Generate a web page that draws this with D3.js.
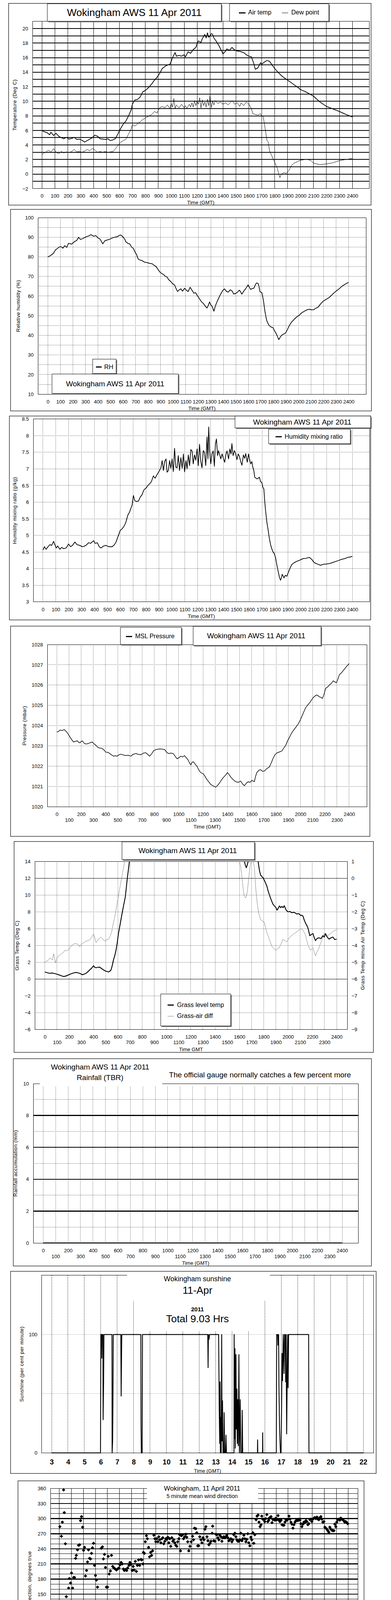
<!DOCTYPE html>
<html>
<head>
<meta charset="utf-8">
<title>Wokingham AWS 11 Apr 2011</title>
<style>
html, body{ margin:0; padding:0; background:#fff; width:1000px; height:5000px; overflow:hidden; }
svg{ display:block; }
.solid{ stroke:#000; stroke-width:1px; shape-rendering:crispEdges; }
.thick{ stroke:#000; stroke-width:2px; shape-rendering:crispEdges; }
.thick3{ stroke:#000; stroke-width:2.5px; shape-rendering:crispEdges; }
.dot{ stroke:#000; stroke-width:1px; stroke-dasharray:1,2; shape-rendering:crispEdges; }
.dash{ stroke:#000; stroke-width:1px; stroke-dasharray:2,2; shape-rendering:crispEdges; }
.lightdot{ stroke:#999; stroke-width:1px; stroke-dasharray:1,1; shape-rendering:crispEdges; }
</style>
</head>
<body>
<script src="https://cdn.jsdelivr.net/npm/d3@7/dist/d3.min.js"></script>
<script>

// ================= data (time as HHMM for the first six charts) =================

var airTemp = [[0,6.0],[20,5.8],[40,5.7],[60,5.4],[70,5.75],[90,5.3],[110,5.6],[130,5.2],[150,5.0],[170,4.85],[190,5.05],[210,4.8],[230,4.9],[250,5.05],[270,4.75],[290,4.8],[310,4.65],[330,4.4],[350,4.6],[370,4.8],[390,5.0],[410,5.35],[430,5.2],[450,4.85],[470,4.8],[490,4.75],[510,4.85],[530,4.6],[550,4.7],[570,4.9],[590,5.6],[610,6.3],[630,6.9],[650,7.3],[670,8.0],[690,8.8],[700,9.6],[720,10.2],[740,10.25],[760,10.6],[780,11.3],[800,11.5],[820,11.8],[850,12.4],[870,12.9],[890,13.3],[910,13.8],[930,14.5],[960,14.9],[990,15.1],[1000,15.5],[1010,16.0],[1030,16.7],[1040,16.2],[1060,16.3],[1080,16.2],[1100,16.4],[1110,16.1],[1130,16.8],[1150,16.6],[1170,17.1],[1190,17.4],[1200,17.9],[1210,18.3],[1230,18.1],[1240,18.6],[1260,19.2],[1270,18.7],[1280,19.4],[1290,18.8],[1300,19.0],[1310,19.3],[1320,19.2],[1330,18.7],[1350,18.2],[1370,17.6],[1390,16.9],[1400,16.5],[1420,16.9],[1430,17.2],[1450,17.0],[1470,17.4],[1480,17.2],[1500,16.95],[1530,16.85],[1560,16.7],[1580,16.4],[1600,16.2],[1620,16.1],[1640,15.1],[1650,14.4],[1670,14.6],[1690,15.3],[1700,15.1],[1720,15.4],[1740,15.6],[1760,15.5],[1780,15.0],[1800,14.5],[1830,13.9],[1860,13.4],[1900,12.9],[1940,12.4],[1980,11.9],[2000,11.6],[2040,11.3],[2080,10.9],[2100,10.7],[2150,9.9],[2200,9.3],[2250,8.95],[2300,8.6],[2350,8.2],[2400,7.85]];

var dewPoint = [[0,2.65],[15,2.9],[30,3.0],[50,3.3],[70,3.0],[90,3.5],[110,3.0],[130,2.8],[150,3.1],[170,2.9],[190,3.05],[210,2.95],[230,3.1],[250,3.4],[270,3.05],[290,3.1],[310,3.0],[330,3.15],[350,3.4],[370,3.2],[390,3.55],[410,3.3],[430,3.0],[450,3.1],[470,3.0],[490,3.1],[510,3.0],[530,3.05],[550,3.1],[570,3.5],[590,4.0],[610,4.4],[630,4.6],[650,4.8],[670,5.5],[690,6.2],[700,6.8],[720,6.6],[740,6.9],[760,7.2],[780,7.5],[800,7.7],[830,8.0],[850,8.2],[870,8.6],[890,8.4],[910,9.1],[930,9.3],[950,9.1],[970,9.5],[990,9.0],[1000,9.7],[1010,9.2],[1020,10.4],[1030,9.0],[1040,9.5],[1060,9.1],[1080,9.6],[1100,9.1],[1110,9.4],[1120,9.0],[1140,9.6],[1150,9.2],[1160,9.8],[1170,9.2],[1180,10.1],[1190,9.4],[1200,10.0],[1210,9.6],[1220,10.5],[1230,9.1],[1240,10.2],[1250,9.4],[1260,9.9],[1270,9.2],[1280,10.3],[1290,9.4],[1300,10.8],[1310,9.1],[1320,10.0],[1330,9.5],[1340,10.1],[1360,9.7],[1380,9.9],[1400,9.6],[1420,9.8],[1440,9.5],[1460,9.9],[1470,10.1],[1490,9.6],[1510,9.8],[1530,9.3],[1540,9.8],[1560,9.4],[1580,9.9],[1600,9.6],[1620,9.0],[1630,8.3],[1650,8.2],[1670,8.1],[1690,8.3],[1700,7.9],[1710,8.0],[1720,6.9],[1730,5.8],[1740,4.6],[1750,4.4],[1760,3.2],[1780,2.4],[1800,1.6],[1820,0.8],[1830,0.1],[1840,-0.5],[1850,-0.05],[1870,0.2],[1890,0.1],[1910,0.5],[1930,1.2],[1950,1.5],[1980,1.75],[2000,1.9],[2050,2.05],[2080,1.85],[2100,1.5],[2150,1.3],[2200,1.4],[2250,1.55],[2300,1.85],[2350,2.0],[2400,2.15]];

var relHum = [[0,79.9],[20,80.6],[45,81.8],[60,83.5],[75,84.2],[90,85.0],[105,85.2],[120,84.4],[135,85.7],[150,84.8],[165,86.9],[190,86.5],[215,87.9],[230,88.3],[245,89.9],[260,88.9],[275,89.2],[305,90.2],[325,90.6],[344,91.3],[365,90.5],[384,90.8],[400,89.6],[414,89.2],[428,87.8],[438,86.6],[455,88.2],[474,88.6],[495,89.0],[513,89.6],[535,90.0],[553,90.2],[570,90.9],[583,91.1],[603,89.9],[615,88.8],[623,87.6],[640,86.8],[653,86.6],[668,85.0],[683,84.2],[695,82.5],[708,81.2],[715,79.8],[722,78.8],[735,78.4],[752,78.1],[770,77.3],[792,77.1],[810,76.7],[832,76.5],[845,75.8],[862,75.1],[875,74.0],[892,72.4],[905,71.6],[921,71.1],[935,70.2],[951,69.7],[965,68.3],[981,67.4],[995,66.3],[1011,65.7],[1022,64.0],[1035,62.3],[1048,63.2],[1061,63.7],[1075,62.5],[1091,64.0],[1105,63.0],[1120,62.3],[1135,64.5],[1150,63.0],[1165,61.5],[1180,61.7],[1195,60.0],[1210,58.6],[1225,57.2],[1240,56.3],[1255,55.0],[1270,53.9],[1280,55.2],[1290,57.0],[1300,55.5],[1310,54.9],[1318,53.5],[1325,52.3],[1337,55.0],[1349,57.0],[1365,59.2],[1379,61.0],[1395,62.8],[1409,63.7],[1425,62.4],[1439,62.0],[1455,63.2],[1469,62.7],[1484,61.0],[1498,61.3],[1513,62.0],[1528,63.0],[1538,62.2],[1548,61.0],[1563,62.5],[1578,63.7],[1598,65.7],[1608,64.5],[1618,63.4],[1630,63.8],[1644,64.0],[1654,65.5],[1664,66.7],[1678,66.4],[1685,64.8],[1692,62.3],[1708,61.7],[1715,59.5],[1722,57.0],[1732,52.3],[1740,49.5],[1747,47.5],[1757,46.0],[1767,44.9],[1782,44.2],[1797,43.9],[1807,42.5],[1817,41.5],[1830,39.8],[1843,37.8],[1855,39.2],[1867,40.1],[1880,40.6],[1897,41.2],[1912,43.0],[1926,44.9],[1945,46.8],[1966,48.2],[1986,49.4],[2006,50.2],[2020,51.2],[2036,51.9],[2060,52.8],[2086,53.3],[2105,53.0],[2122,53.1],[2140,53.9],[2155,54.3],[2175,55.9],[2195,57.3],[2220,58.3],[2245,59.3],[2265,60.5],[2285,61.7],[2305,62.8],[2324,63.7],[2345,64.9],[2364,65.7],[2382,66.4],[2400,67.0]];

var mixRatio = [[0,4.56],[12,4.66],[25,4.58],[40,4.66],[54,4.72],[68,4.70],[83,4.82],[93,4.72],[103,4.62],[115,4.68],[132,4.58],[145,4.64],[161,4.60],[180,4.62],[199,4.74],[215,4.66],[230,4.70],[248,4.80],[265,4.72],[286,4.70],[305,4.66],[325,4.68],[340,4.72],[354,4.78],[370,4.76],[393,4.84],[405,4.76],[422,4.78],[437,4.66],[451,4.62],[470,4.68],[489,4.70],[510,4.66],[538,4.66],[555,4.72],[567,4.80],[586,5.0],[600,5.15],[615,5.2],[630,5.28],[644,5.4],[658,5.6],[673,5.71],[683,5.82],[692,5.91],[702,6.2],[712,6.05],[725,6.02],[741,6.03],[755,6.15],[770,6.23],[780,6.34],[789,6.39],[800,6.42],[814,6.5],[828,6.55],[842,6.62],[857,6.79],[870,6.72],[886,6.83],[900,6.92],[915,7.03],[925,7.25],[935,6.95],[944,7.22],[955,7.30],[963,6.90],[973,6.95],[983,7.25],[992,7.02],[1002,7.30],[1012,6.92],[1021,7.62],[1031,7.05],[1041,7.03],[1050,7.40],[1060,6.95],[1070,7.34],[1080,7.02],[1090,7.45],[1099,6.91],[1110,7.25],[1118,7.00],[1128,7.42],[1138,7.10],[1147,7.58],[1157,7.54],[1166,7.15],[1176,7.42],[1186,7.26],[1196,7.60],[1205,7.10],[1215,7.74],[1224,7.25],[1234,7.03],[1244,7.55],[1253,7.50],[1263,7.10],[1273,7.96],[1280,7.30],[1286,8.26],[1293,7.55],[1302,7.15],[1311,7.45],[1321,7.54],[1330,7.08],[1338,7.75],[1346,7.90],[1355,7.40],[1362,7.55],[1369,7.46],[1380,7.30],[1390,7.45],[1398,7.34],[1410,7.20],[1420,7.45],[1428,7.54],[1440,7.30],[1450,7.60],[1459,7.45],[1466,7.76],[1475,7.40],[1486,7.55],[1495,7.46],[1505,7.28],[1515,7.45],[1524,7.38],[1534,7.22],[1544,7.11],[1555,7.42],[1565,7.32],[1573,7.46],[1585,7.20],[1595,7.45],[1602,7.30],[1612,7.15],[1621,7.22],[1628,7.05],[1636,6.95],[1643,6.75],[1650,6.73],[1660,6.70],[1670,6.72],[1679,6.75],[1688,6.62],[1698,6.59],[1706,6.45],[1714,6.39],[1720,6.05],[1727,5.75],[1737,5.40],[1747,5.16],[1756,4.92],[1766,4.72],[1775,4.60],[1785,4.50],[1795,4.45],[1805,4.32],[1815,4.10],[1824,3.93],[1834,3.75],[1843,3.65],[1850,3.72],[1856,3.83],[1863,3.78],[1870,3.72],[1880,3.80],[1892,3.77],[1910,3.95],[1930,4.12],[1950,4.18],[1969,4.22],[1990,4.25],[2017,4.30],[2040,4.31],[2066,4.34],[2085,4.28],[2104,4.18],[2128,4.14],[2153,4.10],[2175,4.13],[2201,4.14],[2230,4.16],[2259,4.20],[2290,4.24],[2317,4.28],[2340,4.30],[2366,4.34],[2385,4.35],[2400,4.37]];

var mslPressure = [[0,1023.68],[12,1023.70],[25,1023.78],[43,1023.76],[61,1023.8],[75,1023.72],[86,1023.65],[106,1023.45],[120,1023.32],[137,1023.19],[150,1023.22],[168,1023.25],[178,1023.18],[188,1023.15],[209,1023.25],[225,1023.12],[240,1023.09],[260,1023.12],[280,1023.17],[291,1023.19],[305,1023.10],[322,1023.02],[337,1022.92],[352,1022.89],[368,1022.88],[383,1022.82],[403,1022.69],[420,1022.68],[434,1022.62],[450,1022.55],[465,1022.49],[480,1022.51],[496,1022.49],[510,1022.56],[526,1022.59],[545,1022.55],[567,1022.52],[585,1022.54],[608,1022.49],[625,1022.58],[649,1022.62],[670,1022.58],[690,1022.56],[710,1022.64],[731,1022.66],[745,1022.58],[762,1022.49],[778,1022.60],[793,1022.75],[815,1022.82],[844,1022.85],[865,1022.84],[885,1022.82],[900,1022.70],[915,1022.62],[935,1022.64],[956,1022.62],[970,1022.50],[987,1022.36],[1000,1022.40],[1018,1022.49],[1033,1022.45],[1048,1022.52],[1065,1022.40],[1079,1022.29],[1090,1022.15],[1100,1022.06],[1110,1022.18],[1120,1022.22],[1135,1022.10],[1151,1021.99],[1160,1021.88],[1171,1021.76],[1185,1021.66],[1202,1021.63],[1218,1021.48],[1233,1021.33],[1248,1021.22],[1264,1021.09],[1285,1021.02],[1305,1020.96],[1320,1021.05],[1335,1021.16],[1350,1021.30],[1366,1021.43],[1385,1021.55],[1401,1021.69],[1415,1021.58],[1428,1021.46],[1448,1021.33],[1469,1021.23],[1490,1021.20],[1510,1021.26],[1525,1021.12],[1540,1021.03],[1555,1021.15],[1571,1021.23],[1587,1021.20],[1602,1021.30],[1612,1021.26],[1622,1021.23],[1632,1021.50],[1643,1021.69],[1660,1021.80],[1674,1021.82],[1690,1021.74],[1704,1021.76],[1725,1021.88],[1745,1021.96],[1760,1022.15],[1776,1022.39],[1790,1022.55],[1807,1022.65],[1828,1022.70],[1848,1022.75],[1862,1022.88],[1879,1023.02],[1895,1023.25],[1910,1023.42],[1925,1023.60],[1941,1023.75],[1960,1023.90],[1982,1024.08],[1997,1024.25],[2012,1024.45],[2028,1024.68],[2043,1024.88],[2060,1025.02],[2074,1025.11],[2090,1025.25],[2105,1025.38],[2118,1025.45],[2131,1025.51],[2145,1025.48],[2156,1025.41],[2168,1025.40],[2180,1025.34],[2192,1025.50],[2207,1025.84],[2222,1025.90],[2238,1026.0],[2253,1026.08],[2269,1026.21],[2282,1026.16],[2295,1026.11],[2308,1026.30],[2320,1026.51],[2336,1026.60],[2351,1026.71],[2366,1026.82],[2381,1026.94],[2390,1026.98],[2400,1027.07]];

var grassTemp = [[0,0.84],[20,0.75],[41,0.68],[60,0.72],[72,0.68],[90,0.62],[113,0.51],[130,0.42],[154,0.30],[170,0.35],[185,0.43],[205,0.56],[226,0.68],[240,0.74],[256,0.79],[272,0.74],[287,0.68],[298,0.60],[308,0.51],[322,0.58],[338,0.68],[352,0.85],[369,1.09],[385,1.30],[400,1.59],[410,1.40],[421,1.34],[436,1.40],[451,1.42],[466,1.25],[482,1.09],[500,0.95],[523,0.84],[534,0.92],[544,1.09],[554,1.60],[564,2.26],[575,2.80],[585,3.42],[595,4.30],[605,5.41],[620,6.60],[636,7.90],[648,8.80],[661,9.73],[670,10.9],[677,11.89],[686,12.9],[694,13.88],[705,14.6],[760,17],[900,21],[1100,24],[1300,25],[1500,20],[1620,15],[1641,14.0],[1650,13.5],[1657,13.25],[1665,13.6],[1672,14.0],[1700,14.6],[1754,14.0],[1764,13.0],[1774,12.39],[1785,12.2],[1795,12.06],[1810,11.6],[1826,11.06],[1836,10.5],[1846,10.06],[1857,9.6],[1867,9.23],[1877,8.9],[1887,8.73],[1900,8.5],[1910,8.2],[1918,8.40],[1930,8.7],[1940,8.5],[1949,8.65],[1960,8.5],[1969,8.73],[1985,8.2],[2000,7.99],[2015,8.05],[2031,7.90],[2050,7.95],[2072,7.74],[2088,7.8],[2103,7.57],[2113,7.6],[2123,7.49],[2134,7.0],[2144,6.66],[2154,6.4],[2164,6.08],[2172,5.6],[2179,5.16],[2192,5.3],[2205,5.41],[2215,4.95],[2226,4.58],[2240,4.85],[2256,4.91],[2270,4.8],[2287,5.16],[2298,5.0],[2308,5.41],[2322,5.0],[2338,4.75],[2352,4.9],[2369,5.0],[2385,4.7],[2400,4.75]];

var grassAirDiff = [[0,-5.04],[10,-4.95],[21,-4.91],[31,-4.85],[41,-4.75],[52,-4.80],[62,-4.87],[72,-4.50],[80,-4.75],[86,-5.04],[95,-4.85],[103,-4.71],[113,-4.62],[123,-4.58],[134,-4.50],[144,-4.46],[154,-4.40],[164,-4.29],[180,-4.32],[195,-4.25],[205,-4.15],[215,-4.04],[226,-3.98],[236,-3.92],[250,-3.88],[267,-3.92],[277,-3.98],[287,-4.08],[298,-3.95],[308,-3.88],[322,-3.82],[338,-3.75],[352,-3.72],[369,-3.67],[385,-3.50],[400,-3.34],[410,-3.55],[421,-3.83],[431,-3.72],[441,-3.63],[452,-3.56],[462,-3.50],[477,-3.62],[492,-3.75],[508,-3.66],[523,-3.63],[536,-3.45],[549,-3.21],[557,-2.90],[564,-2.63],[572,-2.40],[579,-2.13],[587,-1.80],[595,-1.47],[603,-1.15],[611,-0.80],[621,-0.40],[632,0.03],[640,0.35],[646,0.61],[656,1.0],[670,1.3],[800,2.5],[1200,3],[1580,1.5],[1600,1.0],[1610,0.73],[1618,0.25],[1625,-0.22],[1631,-0.6],[1637,-0.97],[1644,-1.10],[1651,-1.18],[1658,-1.05],[1665,-0.80],[1674,-0.2],[1682,0.36],[1690,0.8],[1698,1.0],[1710,1.2],[1716,0.9],[1723,0.69],[1729,0.0],[1735,-0.64],[1742,-1.15],[1749,-1.63],[1760,-2.1],[1774,-2.46],[1790,-2.55],[1805,-2.63],[1813,-2.85],[1821,-3.13],[1834,-3.40],[1846,-3.63],[1857,-3.85],[1867,-4.04],[1882,-4.18],[1897,-4.29],[1912,-4.20],[1928,-4.13],[1944,-3.88],[1959,-3.63],[1975,-3.72],[1990,-3.79],[2005,-3.60],[2021,-3.46],[2036,-3.38],[2051,-3.29],[2067,-3.22],[2082,-3.13],[2098,-3.05],[2113,-3.00],[2128,-3.15],[2144,-3.38],[2154,-3.70],[2164,-3.96],[2175,-4.15],[2185,-4.29],[2195,-4.20],[2205,-4.13],[2215,-4.40],[2226,-4.62],[2238,-4.40],[2251,-4.21],[2264,-3.95],[2277,-3.71],[2287,-3.50],[2297,-3.29],[2308,-3.38],[2318,-3.46],[2333,-3.38],[2349,-3.29],[2364,-3.20],[2379,-3.13],[2390,-3.10],[2400,-3.09]];

var rainfall = [[0,0],[2400,0]];

// sunshine: [hour, per cent]
var sunshine = [[3,0],[5.98,0],[6.0,100],[6.05,100],[6.06,80],[6.08,100],[6.13,100],[6.14,28],[6.17,60],[6.19,100],[6.68,100],[6.69,0],[6.72,10],[6.74,45],[6.76,100],[7.22,100],[7.24,48],[7.27,90],[7.28,100],[8.44,100],[8.45,27],[8.47,0],[8.52,0],[8.54,100],[12.52,100],[12.54,72],[12.56,100],[12.6,96],[12.63,100],[13.18,100],[13.2,72],[13.22,36],[13.25,8],[13.27,60],[13.29,0],[13.31,30],[13.34,0],[13.37,100],[13.39,10],[13.42,44],[13.45,0],[13.5,0],[13.52,34],[13.55,0],[13.6,0],[13.63,15],[13.66,0],[14.12,0],[14.13,100],[14.16,12],[14.18,88],[14.2,4],[14.24,83],[14.26,20],[14.3,54],[14.32,8],[14.35,45],[14.38,6],[14.42,83],[14.45,0],[14.5,45],[14.53,0],[14.6,0],[14.62,36],[14.65,0],[15.55,0],[15.56,11],[15.57,0],[15.86,0],[15.87,17],[15.88,0],[16.70,0],[16.72,100],[16.78,100],[16.80,91],[16.84,100],[16.86,56],[16.9,20],[16.95,0],[16.99,0],[17.02,36],[17.05,84],[17.08,61],[17.12,100],[17.17,67],[17.2,100],[17.24,100],[17.27,60],[17.3,100],[17.33,16],[17.36,58],[17.39,100],[17.42,55],[17.45,100],[18.67,100],[18.69,0],[22,0]];

// 5 minute mean wind direction: [hour, degrees]
var windDir = [[0.0,109],[0.04,284],[0.17,265],[0.25,293],[0.35,357],[0.41,312],[0.5,250],[0.58,145],[0.66,123],[0.77,162],[0.83,181],[0.93,172],[1.01,192],[1.10,162],[1.18,183],[1.26,183],[1.35,221],[1.41,227],[1.51,238],[1.59,247],[1.68,248],[1.76,296],[1.84,304],[1.93,283],[2.01,237],[2.09,243],[2.17,186],[2.26,197],[2.34,214],[2.42,238],[2.51,221],[2.59,220],[2.67,231],[2.75,242],[2.84,251],[2.92,207],[3.0,187],[3.08,178],[3.17,164],[3.25,131],[3.33,116],[3.42,124],[3.48,241],[3.58,244],[3.66,220],[3.75,229],[3.83,203],[3.91,164],[4.0,164],[4.06,225],[4.14,190],[4.24,196],[4.33,227],[4.43,205],[4.53,202],[4.64,200],[4.74,198],[4.84,200],[4.95,202],[5.03,208],[5.13,213],[5.22,210],[5.32,200],[5.40,197],[5.49,199],[5.59,197],[5.67,202],[5.78,207],[5.86,213],[5.94,209],[6.05,197],[6.13,205],[6.21,198],[6.31,215],[6.40,195],[6.48,207],[6.58,218],[6.67,207],[6.77,219],[6.85,218],[6.94,210],[6.98,233],[7.06,231],[7.14,254],[7.23,266],[7.31,260],[7.41,243],[7.49,224],[7.58,233],[7.66,227],[7.74,236],[7.85,267],[7.93,260],[8.01,254],[8.10,260],[8.18,254],[8.26,264],[8.34,258],[8.43,252],[8.51,260],[8.59,262],[8.67,250],[8.76,255],[8.84,260],[8.92,259],[9.01,263],[9.09,252],[9.17,260],[9.25,245],[9.34,262],[9.42,255],[9.50,258],[9.59,252],[9.67,247],[9.75,245],[9.83,254],[9.92,260],[10.0,268],[10.06,236],[10.14,266],[10.23,268],[10.31,260],[10.41,264],[10.50,269],[10.58,263],[10.66,254],[10.75,236],[10.85,245],[10.95,254],[11.06,265],[11.14,258],[11.22,281],[11.33,280],[11.41,272],[11.49,246],[11.57,246],[11.66,264],[11.76,258],[11.84,252],[11.93,262],[12.01,258],[12.09,279],[12.17,284],[12.26,264],[12.34,256],[12.42,248],[12.51,251],[12.59,255],[12.69,271],[12.73,285],[12.82,256],[12.92,255],[13.0,269],[13.08,268],[13.17,262],[13.25,258],[13.33,267],[13.42,264],[13.50,255],[13.58,262],[13.66,264],[13.75,262],[13.83,264],[13.91,267],[14.0,262],[14.08,256],[14.16,258],[14.24,260],[14.33,254],[14.41,258],[14.49,268],[14.58,271],[14.66,264],[14.74,258],[14.82,255],[14.91,255],[14.99,258],[15.07,271],[15.16,256],[15.24,260],[15.32,267],[15.40,260],[15.49,254],[15.57,259],[15.65,270],[15.73,252],[15.82,246],[15.90,263],[15.98,258],[16.07,272],[16.15,251],[16.23,268],[16.34,298],[16.42,305],[16.50,307],[16.58,293],[16.67,284],[16.75,288],[16.81,305],[16.89,299],[16.98,298],[17.06,294],[17.14,300],[17.23,308],[17.31,294],[17.39,297],[17.47,302],[17.58,304],[17.66,292],[17.74,298],[17.83,299],[17.91,297],[17.99,301],[18.07,298],[18.16,306],[18.24,297],[18.32,294],[18.41,297],[18.49,288],[18.57,287],[18.65,287],[18.74,293],[18.82,298],[18.90,297],[18.99,299],[19.07,305],[19.15,299],[19.23,293],[19.32,289],[19.40,281],[19.48,288],[19.57,293],[19.65,296],[19.73,297],[19.81,296],[19.90,299],[19.98,297],[20.06,290],[20.14,284],[20.23,289],[20.31,293],[20.39,292],[20.48,296],[20.56,294],[20.64,288],[20.72,290],[20.81,298],[20.89,299],[20.97,294],[21.06,299],[21.14,301],[21.22,302],[21.30,300],[21.39,303],[21.47,299],[21.55,298],[21.64,302],[21.72,304],[21.80,299],[21.88,293],[21.97,294],[22.05,283],[22.13,281],[22.22,279],[22.30,276],[22.38,273],[22.46,283],[22.55,279],[22.63,277],[22.71,276],[22.80,276],[22.88,289],[22.96,284],[23.04,293],[23.13,298],[23.21,299],[23.29,297],[23.37,301],[23.46,299],[23.54,298],[23.62,296],[23.70,293],[23.79,294],[23.87,292],[23.95,290]];

// 10 minute mean speed (knots): [hour, kt]
var windMean = [[0,0.8],[0.12,0.4],[0.24,0.3],[0.4,0.9],[0.54,0.7],[0.75,0.4],[0.95,0.6],[1.1,0.9],[1.25,1.0],[1.4,1.3],[1.55,1.7],[1.7,1.0],[1.86,1.2],[2.0,1.5],[2.16,1.6],[2.3,1.1],[2.46,1.4],[2.65,1.3],[2.86,1.7],[3.05,1.4],[3.27,1.5],[3.5,1.9],[3.6,1.2],[3.77,1.7],[4.0,1.4],[4.18,0.8],[4.3,1.0],[4.48,1.7],[4.65,2.2],[4.88,2.5],[5.05,2.9],[5.29,2.8],[5.45,2.5],[5.69,2.2],[5.85,2.9],[5.99,3.1],[6.2,2.6],[6.39,2.8],[6.6,3.3],[6.80,3.1],[6.95,2.6],[7.10,2.2],[7.25,2.9],[7.40,3.6],[7.6,3.3],[7.81,4.2],[7.95,4.6],[8.11,5.3],[8.25,4.7],[8.41,4.5],[8.55,4.0],[8.71,5.3],[8.9,4.9],[9.12,5.6],[9.3,5.2],[9.52,6.1],[9.7,5.9],[9.93,5.3],[10.08,6.4],[10.23,7.8],[10.38,6.9],[10.53,8.6],[10.7,7.4],[10.83,6.4],[11.0,7.2],[11.14,7.8],[11.3,8.8],[11.44,9.5],[11.6,8.0],[11.74,7.2],[11.9,8.6],[12.04,10.0],[12.25,9.2],[12.45,9.5],[12.6,8.8],[12.75,10.3],[12.9,9.0],[13.05,8.1],[13.2,9.0],[13.35,10.0],[13.5,11.5],[13.66,13.1],[13.76,11.5],[13.86,10.6],[13.96,12.0],[14.06,11.7],[14.2,11.0],[14.36,10.6],[14.5,9.6],[14.67,10.0],[14.85,9.2],[15.07,8.1],[15.2,8.6],[15.37,8.9],[15.5,8.3],[15.67,8.1],[15.8,9.2],[15.98,10.6],[16.12,9.6],[16.28,8.9],[16.45,9.9],[16.58,10.6],[16.75,9.5],[16.89,8.9],[17.05,10.2],[17.19,11.7],[17.35,10.5],[17.49,10.0],[17.65,12.0],[17.79,13.4],[17.9,11.8],[17.99,12.5],[18.1,11.5],[18.20,10.6],[18.35,11.5],[18.50,12.2],[18.65,9.6],[18.80,7.8],[18.95,8.8],[19.10,10.0],[19.25,8.5],[19.41,7.2],[19.55,8.4],[19.71,10.0],[19.85,9.0],[20.01,8.1],[20.2,8.3],[20.42,8.6],[20.55,9.0],[20.72,9.7],[20.87,9.2],[21.02,9.5],[21.17,10.5],[21.32,11.4],[21.48,10.4],[21.63,9.5],[21.72,8.2],[21.83,6.7],[21.98,6.9],[22.13,6.4],[22.28,6.7],[22.43,6.4],[22.58,6.8],[22.73,7.0],[22.88,6.5],[23.04,5.8],[23.2,6.8],[23.34,7.5],[23.5,7.6],[23.64,8.1],[23.76,8.6],[23.88,9.2],[23.96,7.8],[24.04,6.7]];

// max gust (knots), one value every 0.1 hour from 00:00
var gustStart = 0, gustStep = 0.1;
var windGust = [
  1.4,1.0,1.8,1.2,1.1,0.8,1.5,1.3,1.0,1.4,
  1.6,1.2,1.9,2.0,1.5,1.8,2.2,1.7,1.4,2.4,
  1.5,2.0,1.6,1.4,1.8,1.3,2.1,1.6,1.9,2.3,
  1.8,2.2,1.6,2.0,2.5,1.7,2.4,1.9,2.0,2.2,
  1.6,1.2,0.7,1.8,2.6,3.0,3.8,3.2,4.0,3.5,
  3.9,3.4,4.2,3.6,4.4,3.8,3.5,4.2,4.8,3.9,
  4.7,4.2,5.0,3.8,4.5,3.6,4.3,4.9,3.8,4.7,
  4.2,5.5,7.0,4.8,5.3,6.2,4.5,7.5,5.5,8.6,
  6.0,8.8,6.7,7.5,9.5,6.2,8.0,6.7,9.0,7.2,
  8.9,6.5,9.5,7.8,6.6,10.0,7.5,9.0,3.3,8.9,
  9.5,13.4,8.5,12.0,10.6,14.0,9.0,12.2,10.0,13.5,
  13.9,10.0,14.5,11.1,15.5,10.5,15.0,12.0,17.8,13.0,
  17.8,11.0,15.5,12.8,16.5,15.3,11.5,16.0,13.4,15.0,
  12.5,17.0,14.0,18.0,15.0,23.9,13.5,20.0,17.3,15.0,
  21.2,14.0,19.0,15.6,20.5,13.0,19.5,16.0,14.5,18.0,
  13.9,17.8,12.5,16.0,14.5,19.0,13.0,16.7,12.0,15.5,
  12.8,18.0,20.6,14.0,17.5,15.0,12.5,19.0,16.7,14.0,
  16.7,13.5,18.0,14.5,20.0,17.0,20.6,24.0,26.2,16.5,
  19.5,24.2,16.0,21.0,18.4,14.5,20.0,15.6,12.5,17.0,
  13.4,19.5,14.0,16.5,11.5,13.9,17.0,15.6,12.0,14.5,
  13.9,18.0,12.5,16.7,14.0,19.5,15.0,13.0,18.5,15.0,
  15.0,18.5,13.0,18.1,14.5,13.4,12.0,10.0,11.5,9.0,
  8.9,11.0,8.0,10.5,9.5,11.5,8.5,11.1,9.0,10.5,
  9.5,11.5,12.2,10.0,14.0,16.7,12.0,15.0,12.8,11.0,
  10.3];

// speeds below 4 kt shown x10: [hour, kt x10]
var speedTimes10 = [[0,8.1],[0.04,5.8],[0.1,3.6],[0.14,2.2],[0.2,6.7],[0.28,7.5],[0.36,5.8],[0.44,10.6],[0.5,9.2],[0.56,6.4],[0.65,5.8],[0.71,2.2],[0.77,5.6],[0.85,6.1],[0.95,5.8],[1.05,5.6],[1.15,4.2],[1.25,7.8],[1.35,8.9],[1.45,11.1],[1.55,13.6],[1.61,14.2],[1.71,11.4],[1.82,5.6],[1.90,8.9],[2.0,13.4],[2.06,12.2],[2.16,10.0],[2.26,7.2],[2.32,9.5],[2.42,12.5],[2.50,11.7],[2.60,10.9],[2.70,10.6],[2.80,12.2],[2.90,14.2],[3.0,15.0],[3.11,16.1],[3.21,15.3],[3.31,16.4],[3.41,14.5],[3.49,17.0],[3.59,8.6],[3.69,14.5],[3.79,15.6],[3.87,14.5],[3.97,11.7],[4.07,11.1],[4.18,8.9],[4.28,8.1],[4.34,11.1],[4.42,13.4],[4.52,15.0],[4.60,16.7],[4.68,18.4],[4.76,20.0],[4.82,22.3],[4.88,25.1],[4.98,25.6],[5.08,25.9],[5.18,28.7],[5.29,26.2],[5.39,24.5],[5.49,23.7],[5.59,24.5],[5.69,21.2],[5.79,25.6],[5.85,28.1],[5.91,31.7],[5.97,33.4],[6.05,31.2],[6.13,29.5],[6.23,31.5],[6.33,30.1],[6.44,27.6],[6.52,29.0],[6.60,32.9],[6.68,31.7],[6.76,30.3],[6.84,27.6],[6.92,26.7],[7.0,28.7],[7.06,23.9],[7.12,21.2],[7.18,19.8],[7.24,26.4],[7.30,29.8],[7.38,33.7],[7.46,32.6],[7.55,31.7],[7.63,30.3],[7.69,33.7],[7.73,35.9],[7.77,38.4],[7.91,39.6],[8.78,39.6]];

var hhmmTicks = d3.range(0, 2401, 100);
var evenTicks = d3.range(0, 2401, 200);
var oddTicks = d3.range(100, 2400, 200);

// ================= drawing helpers =================

var FONT = '"Liberation Sans", Arial, Helvetica, sans-serif';

var svg = d3.select("body").append("svg")
  .attr("width", 1000).attr("height", 5000)
  .attr("font-family", FONT);

svg.append("rect").attr("width", 1000).attr("height", 5000).attr("fill", "#fff");

function frame(x0, y0, x1, y1){
  svg.append("rect").attr("x", x0).attr("y", y0)
    .attr("width", x1 - x0).attr("height", y1 - y0)
    .attr("fill", "none").attr("stroke", "#000").attr("stroke-width", 1.2);
}

function box(x0, y0, x1, y1, shadow){
  if(shadow !== false){
    svg.append("rect").attr("x", x0 + 2.5).attr("y", y0 + 2.5)
      .attr("width", x1 - x0).attr("height", y1 - y0).attr("fill", "#707070");
  }
  svg.append("rect").attr("x", x0).attr("y", y0)
    .attr("width", x1 - x0).attr("height", y1 - y0)
    .attr("fill", "#fff").attr("stroke", "#000").attr("stroke-width", 1);
}

function whiteout(x0, y0, x1, y1){
  svg.append("rect").attr("x", x0).attr("y", y0)
    .attr("width", x1 - x0).attr("height", y1 - y0).attr("fill", "#fff");
}

function text(x, y, s, size, anchor, weight){
  return svg.append("text").attr("x", x).attr("y", y).attr("dy", "0.35em")
    .attr("font-size", size).attr("text-anchor", anchor || "middle")
    .attr("font-weight", weight || "normal").text(s);
}

function yTitle(cx, cy, s){
  svg.append("text")
    .attr("transform", "translate(" + cx + "," + cy + ") rotate(-90)")
    .attr("dy", "0.35em").attr("text-anchor", "middle")
    .attr("font-size", 13).attr("letter-spacing", "0.5px").text(s);
}

function hGrid(sc, vals, x0, x1, cls){
  svg.append("g").selectAll("line").data(vals).enter().append("line")
    .attr("class", cls).attr("x1", x0).attr("x2", x1)
    .attr("y1", function(d){ return sc(d); })
    .attr("y2", function(d){ return sc(d); });
}

function vGrid(sc, vals, y0, y1, cls){
  svg.append("g").selectAll("line").data(vals).enter().append("line")
    .attr("class", cls).attr("y1", y0).attr("y2", y1)
    .attr("x1", function(d){ return sc(d); })
    .attr("x2", function(d){ return sc(d); });
}

function plotBorder(L, T, R, B){
  svg.append("rect").attr("x", L).attr("y", T).attr("width", R - L).attr("height", B - T)
    .attr("fill", "none").attr("stroke", "#000").attr("stroke-width", 1)
    .attr("shape-rendering", "crispEdges");
}

function xAxis(sc, vals, yc, fmt, size, weight){
  var g = svg.append("g").attr("transform", "translate(0," + yc + ")")
    .call(d3.axisBottom(sc).tickValues(vals).tickSize(0).tickPadding(0)
      .tickFormat(fmt || d3.format("d")));
  g.select(".domain").remove();
  g.attr("font-family", FONT).attr("font-size", size || 13);
  g.selectAll("text").attr("y", 0).attr("dy", "0.35em").attr("font-weight", weight || "normal");
}

function yAxis(sc, vals, x, fmt, right){
  var ax = (right ? d3.axisRight(sc) : d3.axisLeft(sc))
    .tickValues(vals).tickSize(0).tickPadding(11).tickFormat(fmt || d3.format("d"));
  var g = svg.append("g").attr("transform", "translate(" + x + ",0)").call(ax);
  g.select(".domain").remove();
  g.attr("font-family", FONT).attr("font-size", 13);
}

function drawLine(xs, ys, data, color, width, clip){
  var line = d3.line()
    .x(function(d){ return xs(d[0]); })
    .y(function(d){ return ys(d[1]); });
  var p = svg.append("path").datum(data)
    .attr("d", line).attr("fill", "none")
    .attr("stroke", color).attr("stroke-width", width)
    .attr("stroke-linejoin", "round");
  if(clip) p.attr("clip-path", "url(#" + clip + ")");
  return p;
}

function clipRect(id, L, T, R, B){
  svg.append("clipPath").attr("id", id).append("rect")
    .attr("x", L).attr("y", T).attr("width", R - L).attr("height", B - T);
}

function legendDash(x0, x1, y, color, width){
  svg.append("line").attr("x1", x0).attr("x2", x1).attr("y1", y).attr("y2", y)
    .attr("stroke", color).attr("stroke-width", width);
}

// ================= 1. temperature =================
function temperatureChart(){
  var L = 83, R = 944, T = 54.4, B = 482.9;
  var x = d3.scaleLinear().domain([0, 2400]).range([107.1, 901.1]);
  var y = d3.scaleLinear().domain([-2, 21]).range([B, T]);
  frame(22, 8.6, 949, 525);
  vGrid(x, hhmmTicks, T, B, "solid");
  hGrid(y, d3.range(-1, 21), L, R, "thick");
  plotBorder(L, T, R, B);
  drawLine(x, y, dewPoint, "#000", 1);
  drawLine(x, y, airTemp, "#000", 1.8);
  yAxis(y, d3.range(-2, 21, 2), L);
  xAxis(x, hhmmTicks, 501);
  yTitle(37, (T + B) / 2, "Temperature (Deg C)");
  text((L + R) / 2, 518, "Time (GMT)", 13);
  box(121, 9.6, 566, 54.4);
  text(343.5, 32, "Wokingham AWS 11 Apr 2011", 26);
  box(587, 9.6, 841, 54.4);
  legendDash(611, 628, 33, "#000", 3);
  text(634.5, 31.7, "Air temp", 16, "start");
  legendDash(721, 737, 33, "#000", 1);
  text(745, 31.7, "Dew point", 16, "start");
}

// ================= 2. relative humidity =================
function humidityChart(){
  var L = 97, R = 936, T = 557, B = 1009.2;
  var x = d3.scaleLinear().domain([0, 2400]).range([122.4, 891.6]);
  var y = d3.scaleLinear().domain([10, 100]).range([B, T]);
  frame(27, 536, 950, 1052);
  vGrid(x, hhmmTicks, T, B, "dot");
  hGrid(y, d3.range(15, 100, 5), L, R, "dot");
  plotBorder(L, T, R, B);
  drawLine(x, y, relHum, "#000", 1.8);
  yAxis(y, d3.range(10, 101, 10), L);
  xAxis(x, hhmmTicks, 1028.8);
  yTitle(46.5, (T + B) / 2, "Relative humidity (%)");
  text((L + R) / 2, 1045.3, "Time (GMT)", 13);
  box(237, 919.4, 297, 956.5);
  legendDash(245.5, 260, 939.5, "#000", 3);
  text(266.6, 938.9, "RH", 16, "start");
  box(133, 957.5, 456, 1007.5);
  text(294.5, 982.8, "Wokingham AWS 11 Apr 2011", 19);
}

// ================= 3. humidity mixing ratio =================
function mixingChart(){
  var L = 85, R = 945, T = 1072.7, B = 1540.8;
  var x = d3.scaleLinear().domain([0, 2400]).range([109.7, 901.1]);
  var y = d3.scaleLinear().domain([3, 8.5]).range([B, T]);
  frame(24, 1065, 948, 1587);
  vGrid(x, hhmmTicks, T, B, "dot");
  hGrid(y, d3.range(3.5, 8.5, 0.5), L, R, "dot");
  plotBorder(L, T, R, B);
  drawLine(x, y, mixRatio, "#000", 1.8);
  yAxis(y, d3.range(3, 8.51, 0.5), L, d3.format("~g"));
  xAxis(x, hhmmTicks, 1560);
  yTitle(37, (T + B) / 2, "Humidity mixing ratio (g/kg)");
  text((L + R) / 2, 1577, "Time (GMT)", 13);
  box(601, 1065, 948, 1095.4);
  text(773, 1080, "Wokingham AWS 11 Apr 2011", 19);
  box(687, 1098.7, 896, 1135.9);
  legendDash(704.7, 720.7, 1118, "#000", 3);
  text(728, 1117.3, "Humidity mixing ratio", 16, "start");
}

// ================= 4. MSL pressure =================
function pressureChart(){
  var L = 121, R = 938, T = 1650, B = 2065;
  var x = d3.scaleLinear().domain([0, 2400]).range([145.4, 892.9]);
  var y = d3.scaleLinear().domain([1020, 1028]).range([B, T]);
  frame(27, 1602.8, 946, 2141);
  vGrid(x, hhmmTicks, T, B, "dot");
  hGrid(y, d3.range(1021, 1028), L, R, "dot");
  plotBorder(L, T, R, B);
  drawLine(x, y, mslPressure, "#000", 1.5);
  yAxis(y, d3.range(1020, 1029), L);
  xAxis(x, evenTicks, 2084);
  xAxis(x, oddTicks, 2099.4);
  yTitle(62.5, (T + B) / 2, "Pressure (mbar)");
  text((L + R) / 2, 2116.6, "Time (GMT)", 13);
  box(308, 1606, 464, 1650);
  legendDash(322, 338, 1629.5, "#000", 3);
  text(345.7, 1628.6, "MSL Pressure", 16, "start");
  box(494, 1603.4, 821, 1652.3);
  text(655.3, 1627.5, "Wokingham AWS 11 Apr 2011", 19);
}

// ================= 5. grass temperature =================
function grassChart(){
  var L = 89, R = 888, T = 2205.3, B = 2635.4;
  var x = d3.scaleLinear().domain([0, 2400]).range([114.8, 861]);
  var y = d3.scaleLinear().domain([-6, 14]).range([B, T]);
  var y2 = d3.scaleLinear().domain([-9, 1]).range([B, T]);
  frame(36, 2154.3, 955, 2694);
  clipRect("grassClip", L, T, R, B);
  vGrid(x, hhmmTicks, T, B, "dot");
  hGrid(y, [-4, -2, 2, 4, 6, 8, 10], L, R, "dot");
  hGrid(y, [0, 12], L, R, "solid");
  plotBorder(L, T, R, B);
  drawLine(x, y2, grassAirDiff, "#808080", 1, "grassClip");
  drawLine(x, y, grassTemp, "#000", 2.2, "grassClip");
  yAxis(y, d3.range(-6, 15, 2), L);
  yAxis(y2, d3.range(-9, 2, 1), R, null, true);
  xAxis(x, evenTicks, 2654);
  xAxis(x, oddTicks, 2668.6);
  yTitle(43.5, (T + B) / 2, "Grass Temp (Deg C)");
  yTitle(927, (T + B) / 2, "Grass Temp minus Air Temp (Deg C)");
  text((L + R) / 2, 2686.4, "Time GMT", 13);
  box(312, 2155, 651, 2200.7);
  text(480, 2177.5, "Wokingham AWS 11 Apr 2011", 19);
  box(411, 2544.6, 590, 2626.4);
  legendDash(428.6, 444.5, 2573, "#000", 3);
  text(452.8, 2572, "Grass level temp", 16, "start");
  legendDash(428.6, 444.5, 2601.5, "#808080", 1);
  text(452.8, 2600.7, "Grass-air diff", 16, "start");
}

// ================= 6. rainfall =================
function rainChart(){
  var L = 85, R = 916, T = 2774, B = 3182;
  var x = d3.scaleLinear().domain([0, 2400]).range([110.3, 875]);
  var y = d3.scaleLinear().domain([0, 10]).range([B, T]);
  frame(34, 2710.3, 950, 3241);
  plotBorder(L, T, R, B);
  whiteout(102, T - 2, 415, T + 2);
  vGrid(x, hhmmTicks, T + 8, B, "dot");
  hGrid(y, [1, 3, 5, 7, 9], L, R, "dot");
  hGrid(y, [2, 4, 6, 8], L, R, "thick3");
  drawLine(x, y, rainfall, "#000", 2.5);
  yAxis(y, d3.range(0, 11, 2), L);
  xAxis(x, evenTicks, 3201);
  xAxis(x, oddTicks, 3216.6);
  yTitle(39, (T + B) / 2, "Rainfall accumulation (mm)");
  text((L + R) / 2, 3233.8, "Time (GMT)", 13);
  text(256, 2731.7, "Wokingham AWS 11 Apr 2011", 19);
  text(256, 2758.5, "Rainfall (TBR)", 19);
  text(665, 2751.7, "The official gauge normally catches a few percent more", 19);
}

// ================= 7. sunshine =================
function sunshineChart(){
  var L = 106.5, R = 955, T = 3264.8, B = 3719.4;
  var x = d3.scaleLinear().domain([3, 22]).range([132, 929]);
  var y = d3.scaleLinear().domain([0, 150]).range([B, T]);
  frame(27, 3254.5, 962, 3772);
  plotBorder(L, T, R, B);
  vGrid(x, d3.range(3, 23), T, B, "dash");
  hGrid(y, [50, 100], L, R, "lightdot");
  whiteout(325, T - 2, 690, 3330);
  whiteout(343.5, 3330, 676.5, 3407);
  drawLine(x, y, sunshine, "#000", 2.2);
  yAxis(y, [0, 100], L);
  xAxis(x, d3.range(3, 23), 3743, d3.format("d"), 18, "bold");
  yTitle(55, (T + B) / 2, "Sunshine (per cent per minute)");
  text((L + R) / 2, 3765, "Time (GMT)", 13);
  text(505, 3274, "Wokingham sunshine", 18);
  text(505, 3303, "11-Apr", 26);
  text(505, 3352, "2011", 15, "middle", "bold");
  text(505, 3376, "Total 9.03 Hrs", 26);
}

// ================= 8. wind direction =================
function directionChart(){
  var L = 129, R = 915, T = 3810.4, B = 4274.2;
  var x = d3.scaleLinear().domain([0, 24]).range([151.8, 890.9]);
  var y = d3.scaleLinear().domain([0, 360]).range([B, T]);
  frame(46, 3791, 931, 4324);
  vGrid(x, d3.range(0, 25), T, B, "solid");
  hGrid(y, d3.range(10, 360, 10).filter(function(d){ return d % 30 !== 0; }), L, R, "solid");
  hGrid(y, d3.range(30, 331, 30), L, R, "thick3");
  plotBorder(L, T, R, B);
  whiteout(376, T - 2, 660, 3847.6);
  svg.append("g").selectAll("path").data(windDir).enter().append("path")
    .attr("d", d3.symbol().type(d3.symbolSquare).size(38))
    .attr("transform", function(d){ return "translate(" + x(d[0]) + "," + y(d[1]) + ") rotate(45)"; })
    .attr("fill", "#000");
  yAxis(y, d3.range(0, 361, 30), L);
  xAxis(x, d3.range(0, 25), 4293.8);
  yTitle(75.5, (T + B) / 2, "Direction, degrees true");
  text((L + R) / 2, 4312, "Time (GMT)", 13);
  text(517, 3810, "Wokingham,  11 April 2011", 17);
  text(517, 3830, "5 minute mean wind direction", 14);
}

// ================= 9. wind speed =================
function speedChart(){
  var L = 102, R = 914, T = 4372.5, B = 4767.6;
  var x = d3.scaleLinear().domain([0, 23]).range([126.3, 853.3]);
  var y = d3.scaleLinear().domain([0, 50]).range([B, T]);
  frame(46, 4328.5, 932, 4843.3);
  plotBorder(L, T, R, B);
  whiteout(103, T - 2, 432, T + 2);
  vGrid(x, d3.range(0, 25), T, B, "dot");
  hGrid(y, d3.range(5, 50, 5), L, R, "dot");
  var gust = windGust.map(function(v, i){ return [gustStart + i * gustStep, v]; });
  drawLine(x, y, gust, "#505050", 1);
  drawLine(x, y, windMean, "#000", 1.8);
  svg.append("g").selectAll("path").data(speedTimes10).enter().append("path")
    .attr("d", d3.symbol().type(d3.symbolSquare).size(42))
    .attr("transform", function(d){ return "translate(" + x(d[0]) + "," + y(d[1]) + ") rotate(45)"; })
    .attr("fill", "#c8c8c8").attr("stroke", "#333").attr("stroke-width", 0.8);
  yAxis(y, d3.range(0, 51, 10), L);
  var hh = function(h){ return d3.format("02d")(h) + ":00"; };
  xAxis(x, d3.range(0, 23, 2), 4788, hh);
  xAxis(x, d3.range(1, 24, 2), 4802, hh);
  yTitle(57.5, (T + B) / 2, "Speed (knots)");
  text((L + R) / 2, 4820.4, "Time (GMT)", 13);
  text(926, 4768, "0", 13, "middle", "bold");
  text(268, 4351.8, "Wokingham,  11 April 2011", 19);
  text(566, 4340.8, "Wind speed, 10 min mean / max gust", 14);
  text(566, 4358.4, "Speeds below 4 kt shown at x10 scale", 14);
  box(713, 4334, 928, 4360.6);
  legendDash(741.7, 753.8, 4349, "#000", 2.5);
  text(760, 4348.7, "Speed x 1", 11, "start");
  svg.append("path").attr("d", d3.symbol().type(d3.symbolSquare).size(30))
    .attr("transform", "translate(833,4348.7) rotate(45)")
    .attr("fill", "#c8c8c8").attr("stroke", "#333").attr("stroke-width", 0.8);
  text(845.7, 4348.7, "Speed / 10", 11, "start");
}

temperatureChart();
humidityChart();
mixingChart();
pressureChart();
grassChart();
rainChart();
sunshineChart();
directionChart();
speedChart();

</script>
</body>
</html>
